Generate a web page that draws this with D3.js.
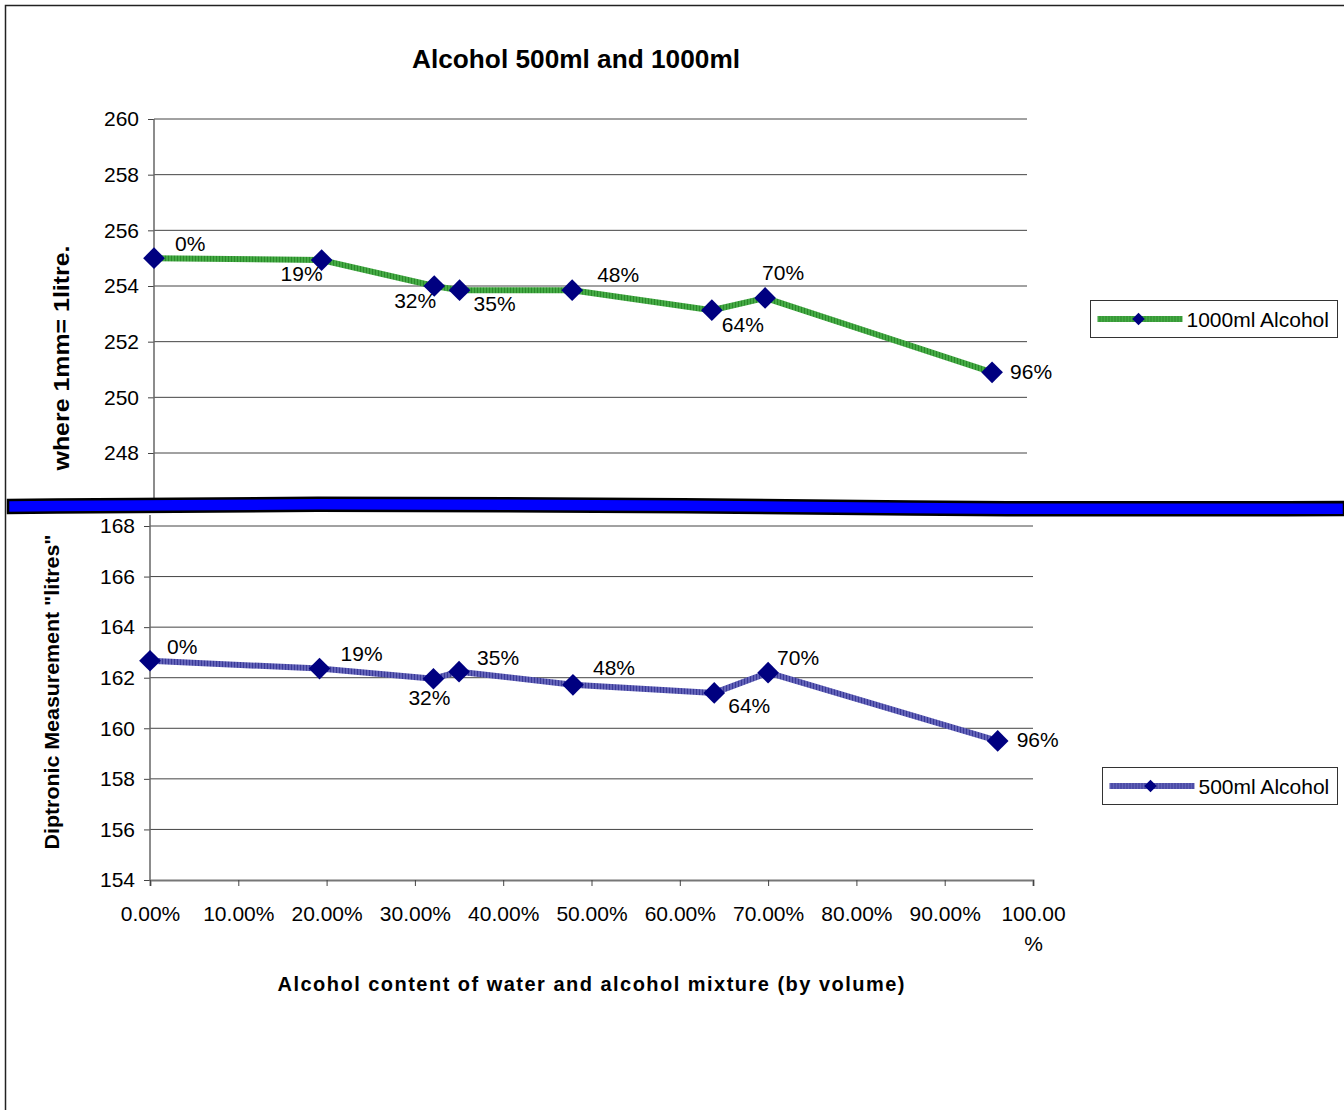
<!DOCTYPE html>
<html>
<head>
<meta charset="utf-8">
<script src="https://cdn.jsdelivr.net/npm/d3@7"></script>
<style>
body { margin: 0; background: #fff; }
svg { display: block; font-family: "Liberation Sans", Arial, sans-serif; }
.tick text { font-size: 21px; fill: #000; }
</style>
</head>
<body>
<div id="chart"></div>
<script>
// chart data
var mixture = [0, 0.192, 0.321, 0.35, 0.479, 0.639, 0.70, 0.96];
var pointLabels = ["0%", "19%", "32%", "35%", "48%", "64%", "70%", "96%"];
var alcohol1000 = [255.0, 254.93, 254.0, 253.85, 253.85, 253.13, 253.57, 250.9];
var alcohol500 = [162.67, 162.36, 161.96, 162.24, 161.72, 161.4, 162.2, 159.5];
var topTicks = [248, 250, 252, 254, 256, 258, 260];
var bottomTicks = [154, 156, 158, 160, 162, 164, 166, 168];
var xTicks = [0, 0.1, 0.2, 0.3, 0.4, 0.5, 0.6, 0.7, 0.8, 0.9, 1.0];

// label placement around each marker [dx, dy, anchor]
var topLabelPos = [[21,-7,"start"],[1,21,"end"],[2,22,"end"],[14,21,"start"],[25,-8,"start"],[10,22,"start"],[-3,-18,"start"],[18,7,"start"]];
var bottomLabelPos = [[17,-7,"start"],[21,-8,"start"],[-4,26,"middle"],[18,-7,"start"],[20,-10,"start"],[14,20,"start"],[9,-8,"start"],[19,6,"start"]];

var svgWidth = 1344, svgHeight = 1110;
var svg = d3.select("#chart").append("svg")
    .attr("width", svgWidth)
    .attr("height", svgHeight);

var defs = svg.append("defs");
function stripes(id, c1, c2) {
    var p = defs.append("pattern").attr("id", id)
        .attr("patternUnits", "userSpaceOnUse")
        .attr("width", 3).attr("height", 3);
    p.append("rect").attr("width", 3).attr("height", 3).attr("fill", c1);
    p.append("rect").attr("width", 1).attr("height", 3).attr("fill", c2);
}
stripes("greenHatch", "#44aa44", "#2b8a2b");
stripes("blueHatch", "#6262b8", "#3a3a98");

// outer frame
svg.append("path").attr("d", "M5.5,1110 V5.5 H1344")
    .attr("fill", "none").attr("stroke", "#222").attr("stroke-width", 1.5);

// title
svg.append("text").attr("x", 576).attr("y", 68)
    .attr("text-anchor", "middle").attr("font-weight", "bold").attr("font-size", 25)
    .attr("textLength", 328).attr("lengthAdjust", "spacingAndGlyphs")
    .text("Alcohol 500ml and 1000ml");

// ---------- top panel (1000ml) ----------
var xTop = d3.scaleLinear().domain([0, 1]).range([154, 1027]);
var yTop = d3.scaleLinear().domain([248, 260]).range([453, 119]);

var topGroup = svg.append("g");
topGroup.selectAll("line.grid").data(topTicks).enter().append("line")
    .attr("class", "grid")
    .attr("x1", xTop(0)).attr("x2", xTop(1))
    .attr("y1", d => yTop(d)).attr("y2", d => yTop(d))
    .attr("stroke", "#444").attr("stroke-width", 1);

var topAxis = topGroup.append("g")
    .attr("transform", `translate(${xTop(0)},0)`)
    .call(d3.axisLeft(yTop).tickValues(topTicks).tickSize(6).tickPadding(9));
topAxis.select(".domain").remove();
topAxis.selectAll(".tick line").attr("stroke", "#444");
topGroup.append("line")
    .attr("x1", xTop(0)).attr("x2", xTop(0)).attr("y1", yTop(260)).attr("y2", 498)
    .attr("stroke", "#666").attr("stroke-width", 1.5);

// ---------- bottom panel (500ml) ----------
var xBot = d3.scaleLinear().domain([0, 1]).range([150, 1033]);
var yBot = d3.scaleLinear().domain([154, 168]).range([880, 526]);

var botGroup = svg.append("g");
botGroup.selectAll("line.grid").data(bottomTicks.slice(1)).enter().append("line")
    .attr("class", "grid")
    .attr("x1", xBot(0)).attr("x2", xBot(1))
    .attr("y1", d => yBot(d)).attr("y2", d => yBot(d))
    .attr("stroke", "#444").attr("stroke-width", 1);

var botYAxis = botGroup.append("g")
    .attr("transform", `translate(${xBot(0)},0)`)
    .call(d3.axisLeft(yBot).tickValues(bottomTicks).tickSize(6).tickPadding(9));
botYAxis.select(".domain").remove();
botYAxis.selectAll(".tick line").attr("stroke", "#444");
botGroup.append("line")
    .attr("x1", xBot(0)).attr("x2", xBot(0)).attr("y1", 515).attr("y2", yBot(154))
    .attr("stroke", "#666").attr("stroke-width", 1.5);

var botXAxis = botGroup.append("g")
    .attr("transform", `translate(0,${yBot(154)})`)
    .call(d3.axisBottom(xBot).tickValues(xTicks).tickSize(6).tickPadding(20)
        .tickFormat(d3.format(".2%")));
botXAxis.select(".domain").attr("stroke", "#777").attr("stroke-width", 2);
botXAxis.selectAll(".tick line").attr("stroke", "#444");
// last label wraps like the original
botXAxis.selectAll(".tick text").filter(d => d === 1).each(function() {
    var t = d3.select(this);
    t.text(null);
    t.append("tspan").attr("x", 0).text("100.00");
    t.append("tspan").attr("x", 0).attr("dy", 30).text("%");
});

// axis titles
svg.append("text")
    .attr("transform", "translate(591,991)")
    .attr("text-anchor", "middle").attr("font-weight", "bold").attr("font-size", 20)
    .attr("textLength", 627).attr("lengthAdjust", "spacing")
    .text("Alcohol content of water and alcohol mixture (by volume)");
svg.append("text")
    .attr("transform", "translate(69,358) rotate(-90)")
    .attr("text-anchor", "middle").attr("font-weight", "bold").attr("font-size", 22)
    .attr("textLength", 225).attr("lengthAdjust", "spacingAndGlyphs")
    .text("where 1mm= 1litre.");
svg.append("text")
    .attr("transform", "translate(59,692) rotate(-90)")
    .attr("text-anchor", "middle").attr("font-weight", "bold").attr("font-size", 21)
    .attr("textLength", 315).attr("lengthAdjust", "spacingAndGlyphs")
    .text("Diptronic Measurement  \"litres\"");

// series drawing
function drawSeries(g, xs, ys, values, pattern, labelPos) {
    var pts = mixture.map((m, i) => ({x: m, y: values[i], label: pointLabels[i], pos: labelPos[i]}));
    var line = d3.line().x(d => xs(d.x)).y(d => ys(d.y));
    g.append("path").datum(pts)
        .attr("d", line)
        .attr("fill", "none")
        .attr("stroke", `url(#${pattern})`)
        .attr("stroke-width", 6)
        .attr("stroke-linejoin", "round");
    g.selectAll("path.marker").data(pts).enter().append("path")
        .attr("class", "marker")
        .attr("d", d3.symbol().type(d3.symbolDiamond2).size(300))
        .attr("transform", d => `translate(${xs(d.x)},${ys(d.y)})`)
        .attr("fill", "#000080");
    g.selectAll("text.lbl").data(pts).enter().append("text")
        .attr("class", "lbl")
        .attr("x", d => xs(d.x) + d.pos[0])
        .attr("y", d => ys(d.y) + d.pos[1])
        .attr("text-anchor", d => d.pos[2])
        .attr("font-size", 21)
        .text(d => d.label);
}
drawSeries(topGroup, xTop, yTop, alcohol1000, "greenHatch", topLabelPos);
drawSeries(botGroup, xBot, yBot, alcohol500, "blueHatch", bottomLabelPos);

// legends
function legend(x, y, w, pattern, name) {
    var lg = svg.append("g").attr("transform", `translate(${x},${y})`);
    lg.append("rect").attr("width", w).attr("height", 37)
        .attr("fill", "#fff").attr("stroke", "#333").attr("stroke-width", 1);
    lg.append("line").attr("x1", 7).attr("x2", 92).attr("y1", 18.5).attr("y2", 18.5)
        .attr("stroke", `url(#${pattern})`).attr("stroke-width", 6);
    lg.append("path")
        .attr("d", d3.symbol().type(d3.symbolDiamond2).size(100))
        .attr("transform", "translate(48,18.5)")
        .attr("fill", "#000080");
    lg.append("text").attr("x", 96).attr("y", 26).attr("font-size", 21).text(name);
}
legend(1090.5, 300.5, 247, "greenHatch", "1000ml Alcohol");
legend(1102.5, 767.5, 235, "blueHatch", "500ml Alcohol");

// break band between the panels
var bandTop = [[8, 500], [300, 497], [700, 499], [1000, 503], [1344, 502]];
var bandBot = [[1344, 515], [1000, 516], [700, 512], [300, 510], [8, 513]];
var band = d3.line().curve(d3.curveBasis);
svg.append("path")
    .attr("d", band(bandTop) + "L" + band(bandBot).slice(1) + "Z")
    .attr("fill", "#0000ff").attr("stroke", "#000").attr("stroke-width", 2.5);
</script>
</body>
</html>
